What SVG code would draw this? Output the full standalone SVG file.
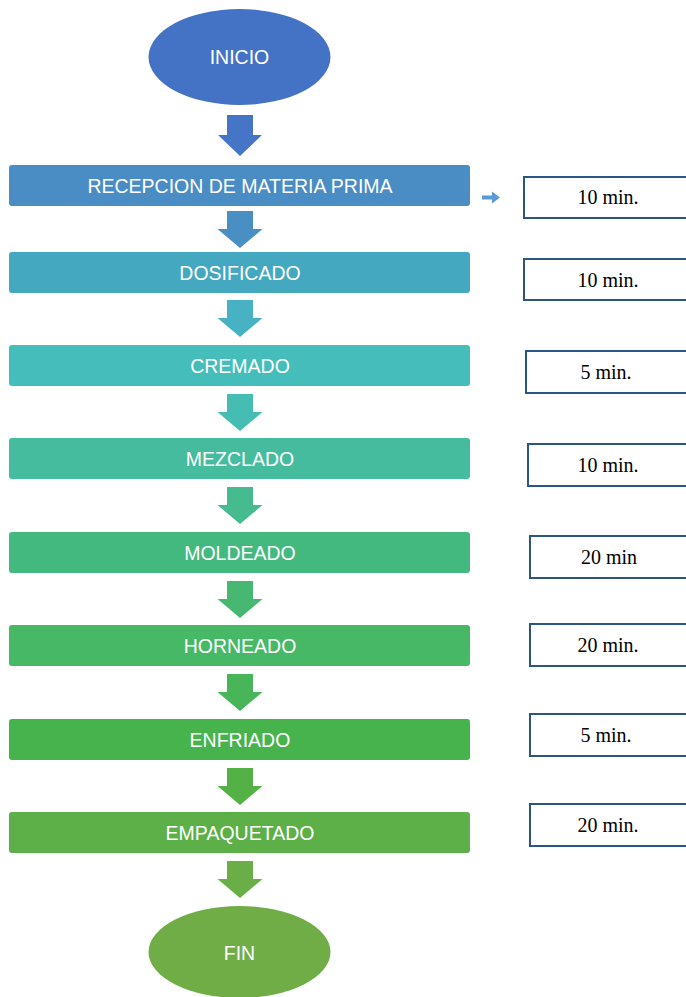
<svg xmlns="http://www.w3.org/2000/svg" width="686" height="997" viewBox="0 0 686 997">
<style>
.lbl{font-family:"Liberation Sans",Arial,sans-serif;font-size:19.5px;fill:#fff;text-anchor:middle}
.t{font-family:"Liberation Serif","Times New Roman",serif;font-size:20px;fill:#000;text-anchor:middle}
.tb{fill:#fff;stroke:#2A5585;stroke-width:2}
</style>
<defs>
<path id="dn" d="M-13,0 H13 V18 H22.5 L0,37 L-22.5,18 H-13 Z"/>
</defs>
<rect width="686" height="997" fill="#fff"/>
<g id="connectors">
<path d="M227,115 H253 V135 H262 L240,156 L218,135 H227 Z" fill="#4674C7"/>
<use href="#dn" x="240" y="211" fill="#4A8FC4"/>
<use href="#dn" x="240" y="300" fill="#47B2C3"/>
<use href="#dn" x="240" y="394" fill="#45BDB2"/>
<use href="#dn" x="240" y="487" fill="#45BB8F"/>
<use href="#dn" x="240" y="581" fill="#46B872"/>
<use href="#dn" x="240" y="674" fill="#47B558"/>
<use href="#dn" x="240" y="768" fill="#53B146"/>
<use href="#dn" x="240" y="861" fill="#6AAE47"/>
<path d="M482,195.5 H492 V191.5 L500,197.5 L492,203.5 V199.5 H482 Z" fill="#5B9BD5"/>
</g>
<g id="inicio">
<ellipse cx="239.5" cy="57" rx="91" ry="48" fill="#4472C4"/>
<text class="lbl" x="239.5" y="64">INICIO</text>
</g>
<g id="recepcion">
<rect x="9" y="165" width="461" height="41" rx="3" fill="#4A8CC4"/>
<text class="lbl" x="240" y="192.5">RECEPCION DE MATERIA PRIMA</text>
</g>
<g id="dosificado">
<rect x="9" y="252" width="461" height="41" rx="3" fill="#44A8C0"/>
<text class="lbl" x="240" y="279.5">DOSIFICADO</text>
</g>
<g id="cremado">
<rect x="9" y="345" width="461" height="41" rx="3" fill="#45BEBB"/>
<text class="lbl" x="240" y="372.5">CREMADO</text>
</g>
<g id="mezclado">
<rect x="9" y="438" width="461" height="41" rx="3" fill="#45BC9D"/>
<text class="lbl" x="240" y="465.5">MEZCLADO</text>
</g>
<g id="moldeado">
<rect x="9" y="532" width="461" height="41" rx="3" fill="#44B97F"/>
<text class="lbl" x="240" y="559.5">MOLDEADO</text>
</g>
<g id="horneado">
<rect x="9" y="625" width="461" height="41" rx="3" fill="#46B866"/>
<text class="lbl" x="240" y="652.5">HORNEADO</text>
</g>
<g id="enfriado">
<rect x="9" y="719" width="461" height="41" rx="3" fill="#47B34C"/>
<text class="lbl" x="240" y="746.5">ENFRIADO</text>
</g>
<g id="empaquetado">
<rect x="9" y="812" width="461" height="41" rx="3" fill="#5DAF47"/>
<text class="lbl" x="240" y="839.5">EMPAQUETADO</text>
</g>
<g id="fin">
<ellipse cx="239.5" cy="952" rx="91" ry="46" fill="#70AD47"/>
<text class="lbl" x="239.5" y="960">FIN</text>
</g>
<g id="t1"><rect class="tb" x="524" y="177" width="180" height="41"/><text class="t" x="608" y="204">10 min.</text></g>
<g id="t2"><rect class="tb" x="524" y="259" width="180" height="41"/><text class="t" x="608" y="287">10 min.</text></g>
<g id="t3"><rect class="tb" x="526" y="351" width="180" height="42"/><text class="t" x="606" y="379">5 min.</text></g>
<g id="t4"><rect class="tb" x="528" y="444" width="180" height="42"/><text class="t" x="608" y="472">10 min.</text></g>
<g id="t5"><rect class="tb" x="530" y="536" width="180" height="42"/><text class="t" x="609" y="564">20 min</text></g>
<g id="t6"><rect class="tb" x="530" y="624" width="180" height="42"/><text class="t" x="608" y="652">20 min.</text></g>
<g id="t7"><rect class="tb" x="530" y="714" width="180" height="42"/><text class="t" x="606" y="742">5 min.</text></g>
<g id="t8"><rect class="tb" x="530" y="804" width="180" height="42"/><text class="t" x="608" y="832">20 min.</text></g>
</svg>
